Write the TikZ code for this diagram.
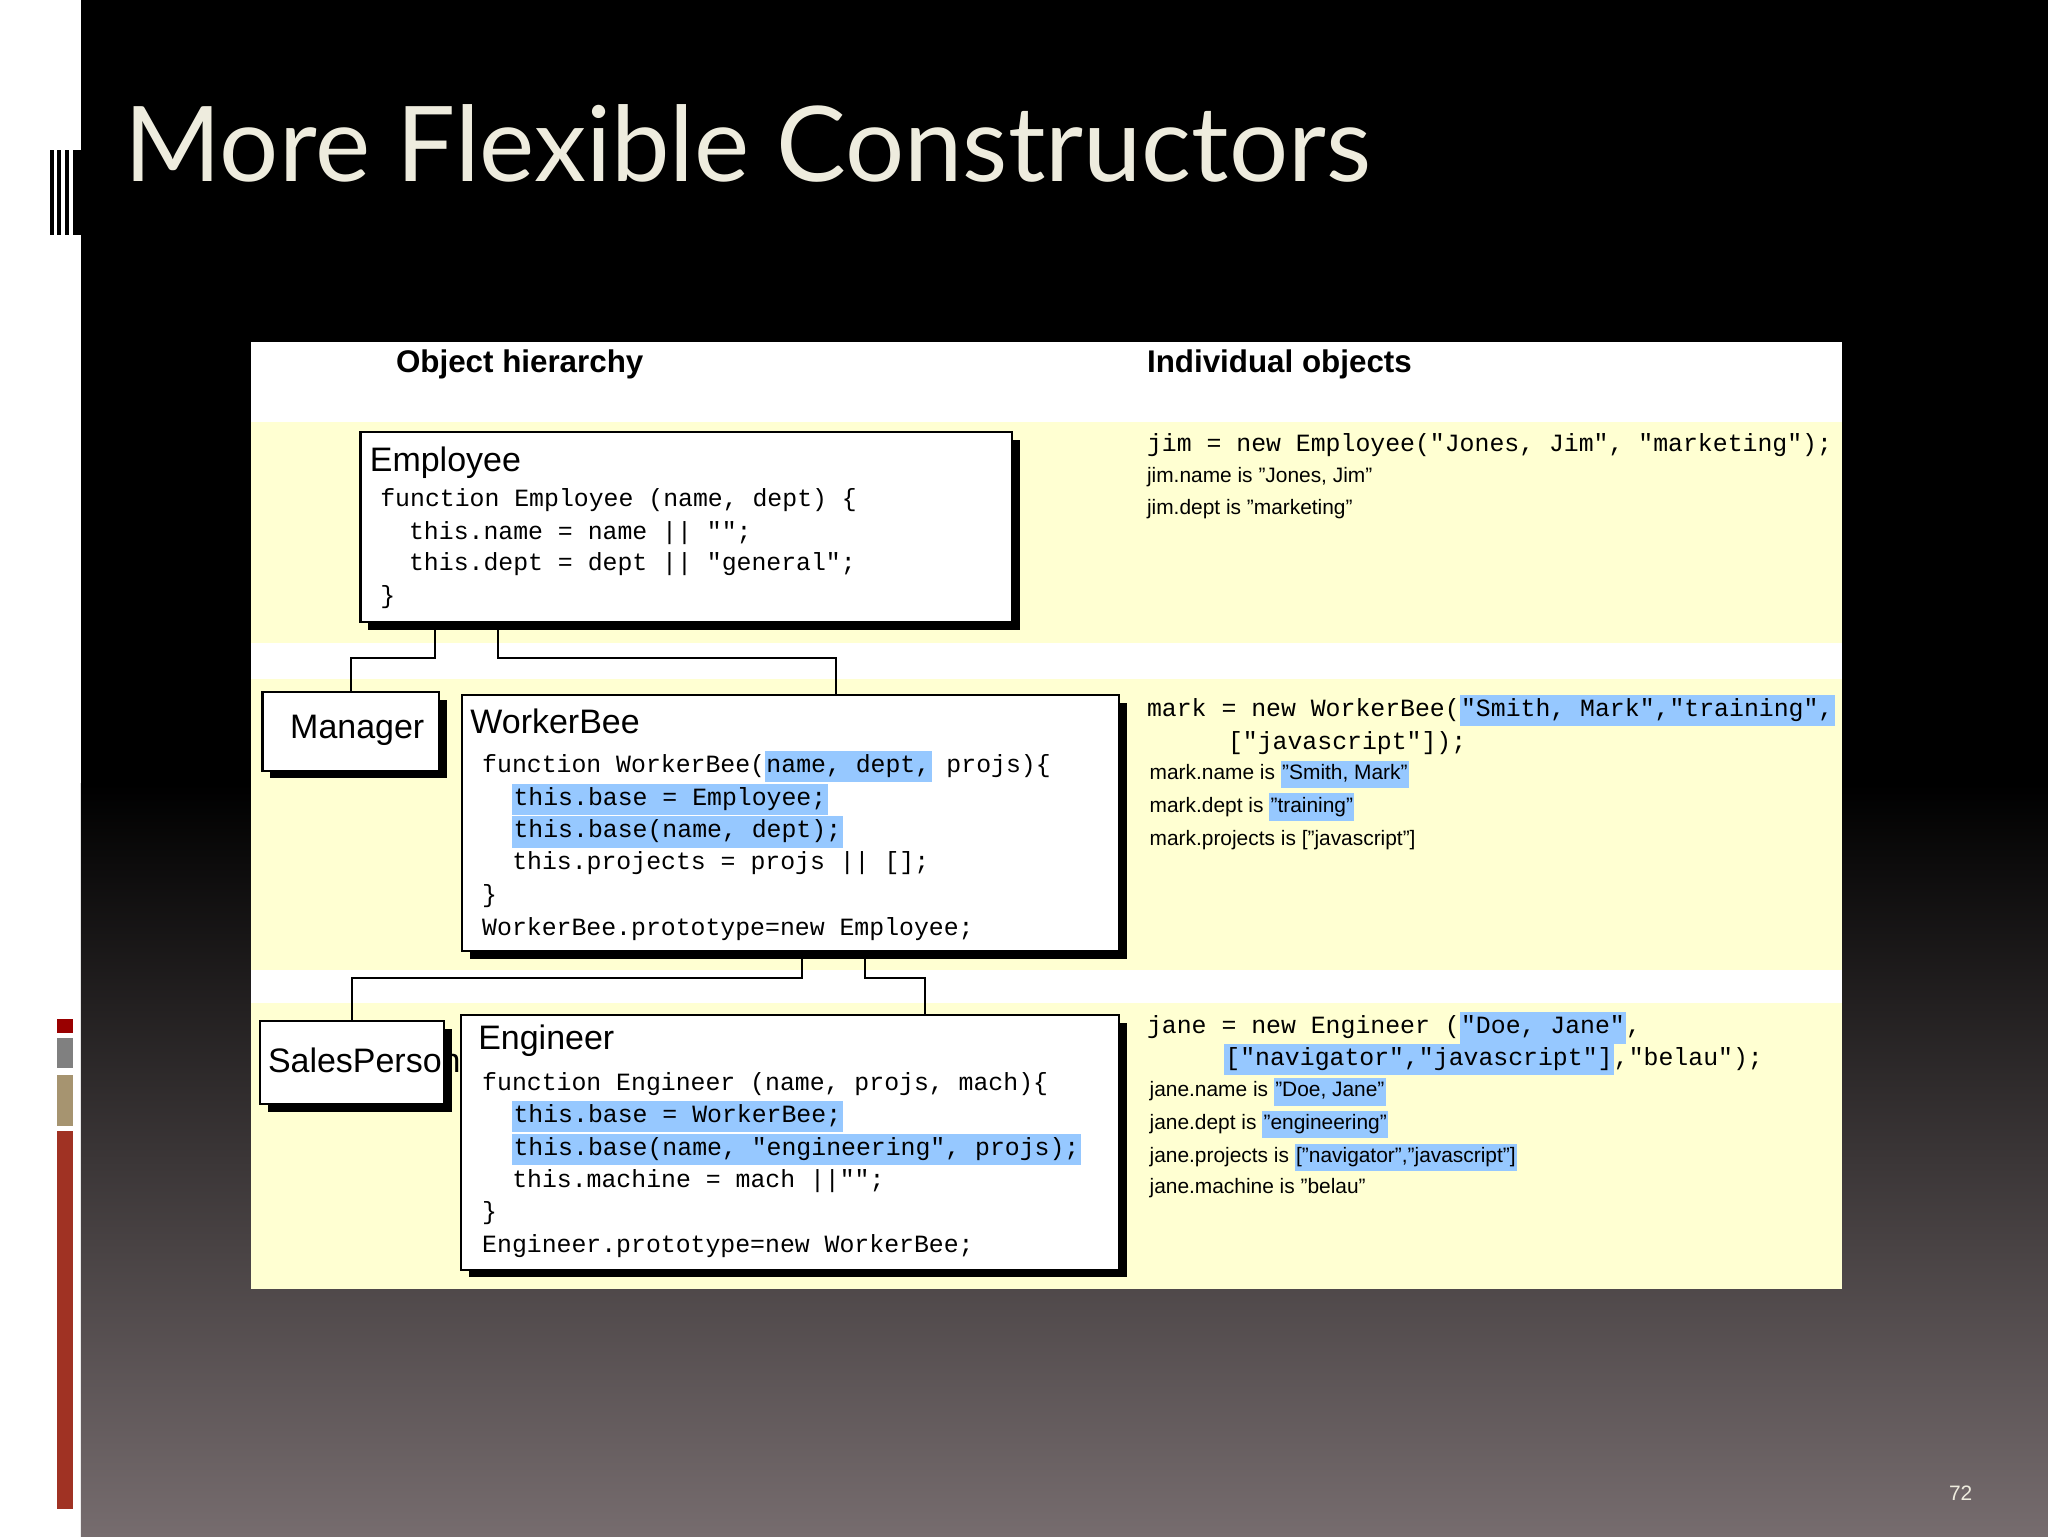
\documentclass[tikz,border=0pt]{standalone}
\usepackage{fontspec}
\setmainfont{Liberation Sans}
\setmonofont{Liberation Mono}
\newfontfamily\titlefont{Lato}
\usetikzlibrary{shadows}
\definecolor{band}{RGB}{255,255,210}
\definecolor{hl}{RGB}{150,200,255}
\definecolor{cream}{RGB}{238,236,222}
\definecolor{bottomgray}{RGB}{118,108,110}
\definecolor{tan}{RGB}{166,148,112}
\definecolor{rust}{RGB}{160,50,35}
\setlength{\fboxsep}{1pt}
\newcommand{\hl}[1]{\colorbox{hl}{\strut #1}}
\tikzset{
 box/.style={draw, line width=1.6pt, fill=white, inner sep=0pt,
   drop shadow={shadow xshift=6pt, shadow yshift=-6pt, opacity=1, fill=black}},
 code/.style={anchor=west, inner sep=0pt, font=\ttfamily\fontsize{19}{22}\selectfont},
 prop/.style={anchor=west, inner sep=0pt, font=\fontsize{16}{19}\selectfont},
 ttl/.style={anchor=west, inner sep=0pt, font=\fontsize{26}{30}\selectfont},
 head/.style={anchor=west, inner sep=0pt, font=\bfseries\fontsize{24}{28}\selectfont},
 conn/.style={line width=1.5pt}
}
\begin{document}
\begin{tikzpicture}[x=1pt,y=-1pt]
\useasboundingbox (0,0) rectangle (1568,1176);
\fill[white] (0,0) rectangle (62,1176);
\fill[black] (62,0) rectangle (1568,600);
\shade[top color=black, bottom color=bottomgray] (62,600) rectangle (1568,1176);
% left icon
\foreach \x in {38,44,50,56} \fill[black] (\x,115) rectangle (\x+3,180);
\fill[black] (59,115) rectangle (62,180);
% left bars
\fill[red!60!black] (44,780) rectangle (56,791);
\fill[gray] (44,795) rectangle (56,818);
\fill[tan] (44,823) rectangle (56,862);
\fill[rust] (44,866) rectangle (56,1155);
\node[anchor=west, inner sep=0pt, text=cream, font=\titlefont\fontsize{80}{90}\selectfont] (title) at (95,110) {More Flexible Constructors};
\node[anchor=west, inner sep=0pt, text=cream, font=\fontsize{16}{18}\selectfont] (pg) at (1492,1143) {72};
% panel
\fill[white] (192,262) rectangle (1410,987);
\fill[band] (192,323) rectangle (1410,492);
\fill[band] (192,520) rectangle (1410,743);
\fill[band] (192,768) rectangle (1410,987);
\node[head] (h1) at (303,279) {Object hierarchy};
\node[head] (h2) at (878,279) {Individual objects};
% boxes
\node[box, minimum width=499pt, minimum height=145pt] (emp) at (525.5,403.5) {};
\node[box, minimum width=135pt, minimum height=60pt] (mgr) at (268.5,560) {};
\node[box, minimum width=503pt, minimum height=196pt] (wb) at (605.5,630) {};
\node[box, minimum width=141pt, minimum height=63pt] (sp) at (269.5,813.5) {};
\node[box, minimum width=504pt, minimum height=195pt] (eng) at (605,874.5) {};
% connectors
\draw[conn] ([xshift=58pt]emp.south west) -- ++(0,27) -| (mgr.north);
\draw[conn] ([xshift=106pt]emp.south west) -- ++(0,27) -| ([xshift=287pt]wb.north west);
\draw[conn] ([xshift=261pt]wb.south west) -- ++(0,20) -| (sp.north);
\draw[conn] ([xshift=309pt]wb.south west) -- ++(0,20) -| ([xshift=356pt]eng.north west);
% Employee
\node[ttl] (et) at (283,354) {Employee};
\node[code] (e1) at (291,383) {function Employee (name, dept) \{};
\node[code] (e2) at (313,408) {this.name = name || "";};
\node[code] (e3) at (313,432) {this.dept = dept || "general";};
\node[code] (e4) at (291,457) {\}};
\node[ttl] (mt) at (222,559) {Manager};
\node[ttl] (st) at (205,812) {SalesPerson};
% WorkerBee
\node[ttl] (wt) at (360,552) {WorkerBee};
\node[code] (w1) at (369,587) {function WorkerBee(\hl{name, dept,} projs)\{};
\node[code] (w2) at (392,612) {\hl{this.base = Employee;}};
\node[code] (w3) at (392,637) {\hl{this.base(name, dept);}};
\node[code] (w4) at (392,661) {this.projects = projs || [];};
\node[code] (w5) at (369,686) {\}};
\node[code] (w6) at (369,711) {WorkerBee.prototype=new Employee;};
% Engineer
\node[ttl] (gt) at (366,797) {Engineer};
\node[code] (g1) at (369,830) {function Engineer (name, projs, mach)\{};
\node[code] (g2) at (392,855) {\hl{this.base = WorkerBee;}};
\node[code] (g3) at (392,880) {\hl{this.base(name, "engineering", projs);}};
\node[code] (g4) at (392,904) {this.machine = mach ||"";};
\node[code] (g5) at (369,929) {\}};
\node[code] (g6) at (369,954) {Engineer.prototype=new WorkerBee;};
% right side
\node[code] (j1) at (878,341) {jim = new Employee("Jones, Jim", "marketing");};
\node[prop] (j2) at (878,365) {jim.name is "Jones, Jim"};
\node[prop] (j3) at (878,390) {jim.dept is "marketing"};
\node[code] (m1) at (878,544) {mark = new WorkerBee(\hl{"Smith, Mark","training",}};
\node[code] (m2) at (940,569) {["javascript"]);};
\node[prop] (m3) at (880,593) {mark.name is \hl{"Smith, Mark"}};
\node[prop] (m4) at (880,618) {mark.dept is \hl{"training"}};
\node[prop] (m5) at (880,643) {mark.projects is ["javascript"]};
\node[code] (n1) at (878,787) {jane = new Engineer (\hl{"Doe, Jane"},};
\node[code] (n2) at (937,811) {\hl{["navigator","javascript"]},"belau");};
\node[prop] (n3) at (880,836) {jane.name is \hl{"Doe, Jane"}};
\node[prop] (n4) at (880,861) {jane.dept is \hl{"engineering"}};
\node[prop] (n5) at (880,886) {jane.projects is \hl{["navigator","javascript"]}};
\node[prop] (n6) at (880,910) {jane.machine is "belau"};
\end{tikzpicture}
\end{document}
